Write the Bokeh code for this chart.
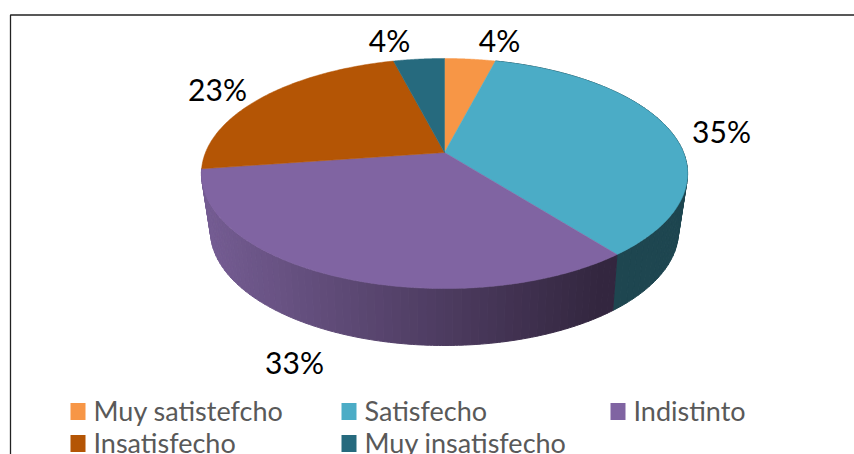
import numpy as np
from bokeh.plotting import figure
from bokeh.embed import file_html
from bokeh.resources import INLINE
from bokeh.core.properties import value

categories = ["Muy satistefcho", "Satisfecho", "Indistinto", "Insatisfecho", "Muy insatisfecho"]
values = [4, 35, 33, 23, 4]
labels = ["4%", "35%", "33%", "23%", "4%"]
colors = ["#F79646", "#4BACC6", "#8064A2", "#B45505", "#266A7E"]
wall_colors = ["#A5642F", "#1E4650", None, "#783903", "#194753"]
label_x = [499, 721, 294, 217, 389]
label_y = [39, 130, 361, 88, 39]
legend_x = [70, 341, 610, 70, 341]
legend_y = [411, 411, 411, 443, 443]

W, H = 854, 454
p = figure(width=W, height=H, x_range=(0, W), y_range=(H, 0), toolbar_location=None,
           output_backend="svg", min_border=0, outline_line_color=None)
p.axis.visible = False
p.grid.visible = False

K = 0.1826
K2 = 0.2
def top(t):
    u, v = np.sin(t), -np.cos(t)
    d = 1 - K * v
    return 444 + 239 * u / d, 152 + 111.2 * v / d
def bottom(t):
    u, v = np.sin(t), -np.cos(t)
    d = 1 - K2 * v
    return 444 + 229.3 * u / d, 207.5 + 110 * v / d

frac = np.array(values, float) / sum(values)
edges = np.concatenate([[0], np.cumsum(frac)]) * 2 * np.pi

purple_dark = np.array([0x33, 0x26, 0x3F])
purple_light = np.array([0x74, 0x5C, 0x92])
def wall(a, b, col):
    ts = np.linspace(a, b, 4)
    x0, y0 = top(ts); x1, y1 = bottom(ts)
    p.patch(np.r_[x0, x1[::-1]], np.r_[y0, y1[::-1]], fill_color=col, line_color=col, line_width=1)

strip = np.linspace(edges[1], edges[2], 60)
for a, b in zip(strip[:-1], strip[1:]):
    wall(a, b, wall_colors[1])
strip = np.linspace(edges[2], edges[3], 70)
for a, b in zip(strip[:-1], strip[1:]):
    xm = top((a + b) / 2)[0]
    f = np.clip((xm - 205) / (600 - 205), 0, 1)
    c = purple_light + (purple_dark - purple_light) * f
    wall(a, b, "#%02x%02x%02x" % tuple(int(round(q)) for q in c))

for i in range(len(values)):
    ts = np.linspace(edges[i], edges[i + 1], 120)
    x, y = top(ts)
    p.patch(np.r_[444, x], np.r_[152, y], fill_color=colors[i], line_color=colors[i], line_width=0.5)

p.line([10, 10, W], [H, 14.5, 14.5], line_color="#222222", line_width=1.3)

p.text(label_x, label_y, text=labels, text_font=value("Lato"), text_font_size="30px",
       text_color="#000000", text_align="center", text_baseline="middle")

p.rect(np.array(legend_x) + 7.5, legend_y, width=15, height=17, fill_color=colors, line_color=None)
p.text(np.array(legend_x) + 23, np.array(legend_y) - 1, text=categories, text_font=value("Lato"), text_font_size="27px",
       text_color="#595959", text_align="left", text_baseline="middle")

open("out.html", "w").write(file_html(p, INLINE))
